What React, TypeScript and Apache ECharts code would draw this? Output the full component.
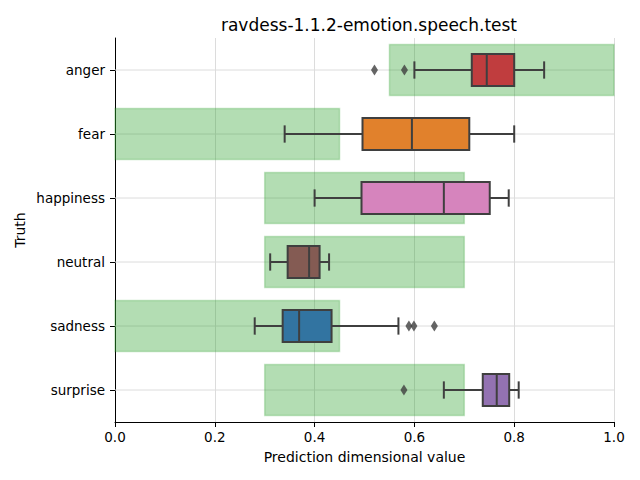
import React, { useEffect, useRef } from "react";
import * as echarts from "echarts";

const categories = ["anger", "fear", "happiness", "neutral", "sadness", "surprise"];
const whiskerLow = [0.6, 0.34, 0.4, 0.311, 0.28, 0.659];
const q1 = [0.715, 0.496, 0.494, 0.346, 0.336, 0.737];
const medians = [0.745, 0.595, 0.659, 0.389, 0.369, 0.765];
const q3 = [0.8, 0.71, 0.751, 0.41, 0.434, 0.79];
const whiskerHigh = [0.86, 0.8, 0.789, 0.429, 0.568, 0.809];
const rangeLow = [0.55, 0.0, 0.3, 0.3, 0.0, 0.3];
const rangeHigh = [1.0, 0.45, 0.7, 0.7, 0.45, 0.7];
const outliers: [number, string][] = [
  [0.52, "anger"],
  [0.58, "anger"],
  [0.589, "sadness"],
  [0.599, "sadness"],
  [0.64, "sadness"],
  [0.579, "surprise"],
];
const boxColors = ["#c03d3e", "#e1812c", "#d684bd", "#845b53", "#3274a1", "#9372b2"];

const FONT = "DejaVu Sans";
const EDGE = "#3f3f3f";

export default function App() {
  const ref = useRef<HTMLDivElement>(null);
  useEffect(() => {
    if (!ref.current) return;
    const chart = echarts.init(ref.current, null, { renderer: "svg" });
    const rangeData = categories.map((c, i) => [i, rangeLow[i], rangeHigh[i]]);
    const boxData = categories.map((c, i) => [i, whiskerLow[i], q1[i], medians[i], q3[i], whiskerHigh[i]]);
    chart.setOption({
      animation: false,
      backgroundColor: "#ffffff",
      title: {
        text: "ravdess-1.1.2-emotion.speech.test",
        left: 364,
        top: 11,
        textAlign: "center",
        textStyle: { fontFamily: FONT, fontSize: 17, fontWeight: "normal", color: "#000" },
      },
      grid: { left: 115, right: 26, top: 38, bottom: 58 },
      xAxis: {
        type: "value",
        min: 0,
        max: 1,
        interval: 0.2,
        name: "Prediction dimensional value",
        nameLocation: "middle",
        nameGap: 28,
        nameMoveOverlap: false,
        nameTextStyle: { fontFamily: FONT, fontSize: 14, color: "#000" },
        axisLine: { show: true, lineStyle: { color: "#000", width: 1 } },
        axisTick: { show: true, length: 5, lineStyle: { color: "#000" } },
        axisLabel: {
          fontFamily: FONT,
          fontSize: 13.5,
          color: "#000",
          margin: 8,
          formatter: (v: number) => v.toFixed(1),
        },
        splitLine: { show: true, lineStyle: { color: "#dcdcdc", width: 1 } },
      },
      yAxis: {
        type: "category",
        data: categories,
        inverse: true,
        name: "Truth",
        nameLocation: "middle",
        nameGap: 88,
        nameRotate: 90,
        nameMoveOverlap: false,
        nameTextStyle: { fontFamily: FONT, fontSize: 14, color: "#000" },
        axisLine: { show: true, lineStyle: { color: "#000", width: 1 } },
        axisTick: { show: true, length: 5, alignWithLabel: true, lineStyle: { color: "#000" } },
        axisLabel: { fontFamily: FONT, fontSize: 13.5, color: "#000", margin: 10 },
        splitLine: { show: false },
      },
      series: [
        {
          type: "custom",
          name: "grid-h",
          z: 1,
          data: categories.map((c, i) => [i]),
          renderItem: (params: any, api: any) => {
            const cat = api.value(0);
            const p0 = api.coord([0, cat]);
            const p1 = api.coord([1, cat]);
            return {
              type: "line",
              shape: { x1: p0[0], y1: p0[1], x2: p1[0], y2: p1[1] },
              style: { stroke: "#dcdcdc", lineWidth: 1 },
            };
          },
          silent: true,
        },
        {
          type: "custom",
          name: "range",
          z: 2,
          data: rangeData,
          renderItem: (params: any, api: any) => {
            const cat = api.value(0);
            const lo = api.coord([api.value(1), cat]);
            const hi = api.coord([api.value(2), cat]);
            const band = api.size([0, 1])[1];
            const h = band * 0.8;
            return {
              type: "rect",
              shape: { x: lo[0], y: lo[1] - h / 2, width: hi[0] - lo[0], height: h },
              style: {
                fill: "rgba(44,160,44,0.36)",
                stroke: "rgba(44,160,44,0.25)",
                lineWidth: 1.5,
              },
            };
          },
          silent: true,
        },
        {
          type: "custom",
          name: "box",
          z: 3,
          data: boxData,
          renderItem: (params: any, api: any) => {
            const cat = api.value(0);
            const x = (v: number) => api.coord([v, cat])[0];
            const cy = api.coord([0, cat])[1];
            const band = api.size([0, 1])[1];
            const bh = band * 0.5;
            const cap = bh * 0.27;
            const mn = x(api.value(1));
            const a = x(api.value(2));
            const md = x(api.value(3));
            const b = x(api.value(4));
            const mx = x(api.value(5));
            const ls = { stroke: EDGE, lineWidth: 2 };
            return {
              type: "group",
              children: [
                { type: "line", shape: { x1: mn, y1: cy, x2: a, y2: cy }, style: ls },
                { type: "line", shape: { x1: b, y1: cy, x2: mx, y2: cy }, style: ls },
                { type: "line", shape: { x1: mn, y1: cy - cap, x2: mn, y2: cy + cap }, style: ls },
                { type: "line", shape: { x1: mx, y1: cy - cap, x2: mx, y2: cy + cap }, style: ls },
                {
                  type: "rect",
                  shape: { x: a, y: cy - bh / 2, width: b - a, height: bh },
                  style: { fill: boxColors[cat], stroke: EDGE, lineWidth: 2 },
                },
                { type: "line", shape: { x1: md, y1: cy - bh / 2, x2: md, y2: cy + bh / 2 }, style: ls },
              ],
            };
          },
          silent: true,
        },
        {
          type: "scatter",
          name: "outliers",
          z: 4,
          symbol: "diamond",
          symbolSize: [7, 11],
          itemStyle: { color: EDGE },
          data: outliers,
          silent: true,
        },
      ],
    });
    return () => chart.dispose();
  }, []);
  return (
    <div
      ref={ref}
      style={{ position: "fixed", left: 0, top: 0, width: 640, height: 480 }}
    />
  );
}
